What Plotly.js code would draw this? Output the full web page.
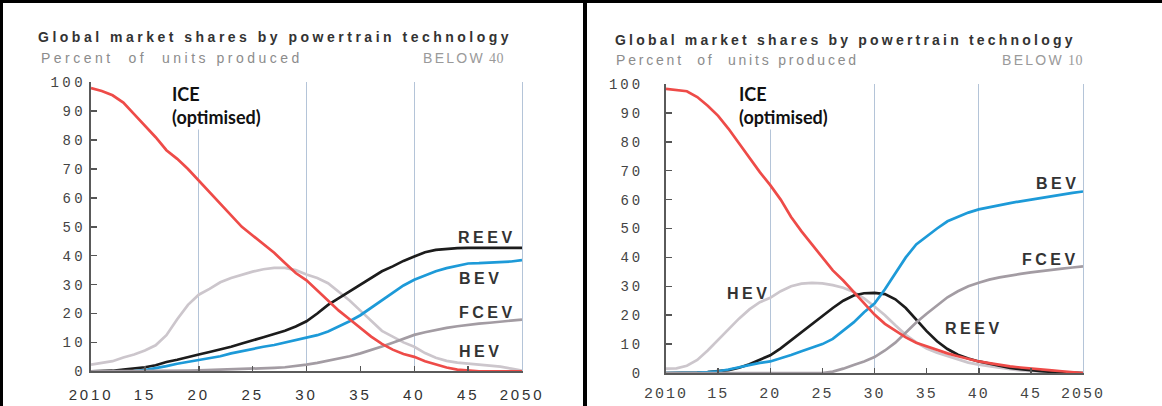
<!DOCTYPE html>
<html><head><meta charset="utf-8">
<script src="https://cdn.plot.ly/plotly-3.0.1.min.js"></script>
<style>html,body{margin:0;padding:0;background:#fff}#chart{width:1162px;height:406px}</style>
</head><body><div id="chart"></div>
<script>
// ---------- data ----------
const years = [2010,2011,2012,2013,2014,2015,2016,2017,2018,2019,
               2020,2021,2022,2023,2024,2025,2026,2027,2028,2029,
               2030,2031,2032,2033,2034,2035,2036,2037,2038,2039,
               2040,2041,2042,2043,2044,2045,2046,2047,2048,2049,2050];

// Left panel: BELOW 40
const below40_ICE  = [98,97,95.5,93,89,85,81,76.5,73.5,70, 66,62,58,54,50,47,44,41,37.5,34, 31.5,28,24.5,21,18,15,12,9.5,7.5,6, 5,3.5,2.3,1.3,0.6,0.2,0,0,0,0, 0];
const below40_HEV  = [2.3,2.8,3.5,4.8,5.8,7.2,9,12.5,18,23, 26.5,28.5,30.8,32.3,33.5,34.5,35.3,35.8,35.8,35, 33.5,32.3,30.5,27.5,24.5,21,17.5,14,12,10, 8.5,6.3,4.7,3.6,3,2.7,2.4,2,1.6,0.9, 0.2];
const below40_REEV = [0,0,0.2,0.6,0.9,1.4,2.1,3.2,4,4.8, 5.8,6.7,7.5,8.5,9.6,10.6,11.8,12.9,14,15.5, 17.3,20,23,25.3,27.6,30,32.3,34.6,36.3,38.2, 39.7,41.2,42,42.4,42.6,42.7,42.7,42.7,42.7,42.7, 42.7];
const below40_BEV  = [0,0,0,0,0.1,0.4,1,1.8,2.6,3.3, 4,4.6,5.2,6.2,7,7.8,8.5,9.1,9.9,10.7, 11.5,12.5,13.8,15.5,17.3,19.4,21.9,24.4,27,29.7, 31.7,33.2,34.6,35.7,36.6,37.3,37.4,37.6,37.8,38, 38.5];
const below40_FCEV = [0,0,0,0,0,0,0,0,0,0.2, 0.3,0.4,0.5,0.6,0.8,0.9,1,1.2,1.4,1.8, 2.3,2.9,3.6,4.4,5.2,6.2,7.3,8.6,9.9,11.2, 12.6,13.5,14.3,15,15.6,16.1,16.5,16.8,17.1,17.5, 17.9];

// Right panel: BELOW 10
const below10_ICE  = [98.3,98,97.5,95.5,92.5,89,84.5,79.5,74.5,69.5, 65,60,54,49,44.5,40,35.5,32,28,24, 20.2,17,14.5,12.3,10.5,9.2,8,6.8,5.8,4.8, 4,3.4,2.8,2.3,1.9,1.5,1.2,0.9,0.6,0.3, 0];
const below10_HEV  = [1.5,1.6,2.5,4.5,7.8,11.5,15.3,18.8,22,24.5, 26,28.3,30,30.9,31.2,31,30.4,29.5,28,25.8, 23,20,16.5,13.2,10.6,8.5,7,5.8,4.6,3.6, 2.9,2.3,1.8,1.3,0.9,0.6,0.4,0.2,0,0, 0];
const below10_REEV = [0,0,0,0.1,0.3,0.6,1,1.8,3,4.6, 6.1,8.5,11.3,14.3,17.2,20,22.5,25,26.8,27.6, 27.7,27.3,25.5,22.5,18.5,14.5,11,8.3,6.3,5, 4,3.2,2.5,1.8,1.3,0.9,0.6,0.4,0.2,0.1, 0];
const below10_BEV  = [0,0,0,0.1,0.3,0.6,1.2,2,2.8,3.5, 4,5,6.2,7.5,8.8,10,11.8,14.5,17.5,21, 24,29,34.5,40,44.5,47.4,50,52.5,54,55.5, 56.6,57.4,58.2,58.8,59.4,60,60.6,61.3,61.8,62.3, 62.8];
const below10_FCEV = [0,0,0,0,0,0,0,0,0,0, 0,0,0,0,0,0,0.5,1.5,2.8,4, 5.5,7.8,10.5,14,17.5,20.5,23.5,26.2,28.3,30, 31.2,32.3,33.1,33.8,34.3,34.8,35.3,35.7,36.1,36.5, 36.9];

const xTickVals = [2010,2015,2020,2025,2030,2035,2040,2045,2050];
const xTickLabels = ['2010','15','20','25','30','35','40','45','2050'];
const yTickVals = [0,10,20,30,40,50,60,70,80,90,100];
const yTickLabels = ['0','10','20','30','40','50','60','70','80','90','100'];

const chartTitle = 'Global market shares by powertrain technology';
const subTitle = 'Percent\u00a0\u00a0of\u00a0\u00a0units produced';
const iceLabel = 'ICE<br>(optimised)';
const scenarioLeft = '40';
const scenarioRight = '10';
// ---------- styling ----------
const W = 1162, H = 406;
const X = p => p / W, Y = p => 1 - p / H;
const colors = {ICE:'#ee4b48', HEV:'#ccc6cc', REEV:'#1c1c1c', BEV:'#1d9ad8', FCEV:'#a39ca3'};
const sp = (t, ls) => `<span style="letter-spacing:${ls}px">${t}</span>`;

// ICE sits on the overlaying x-axis (same range) that carries the vertical grid lines;
// FCEV sits on the overlaying y-axis (same range) whose light line is the 2050 grid line.
function traces(set, xa, xaGrid, ya, yaEdge) {
  const order = [['HEV', set.HEV], ['FCEV', set.FCEV], ['REEV', set.REEV], ['BEV', set.BEV], ['ICE', set.ICE]];
  return order.map(([n, v]) => ({
    x: years, y: v, xaxis: n === 'ICE' ? xaGrid : xa, yaxis: n === 'FCEV' ? yaEdge : ya,
    type: 'scatter', mode: 'lines', name: n,
    line: {color: colors[n], width: 2.7}, hoverinfo: 'skip', showlegend: false
  }));
}
const data = [
  ...traces({ICE: below40_ICE, HEV: below40_HEV, REEV: below40_REEV, BEV: below40_BEV, FCEV: below40_FCEV}, 'x', 'x3', 'y', 'y3'),
  ...traces({ICE: below10_ICE, HEV: below10_HEV, REEV: below10_REEV, BEV: below10_BEV, FCEV: below10_FCEV}, 'x2', 'x4', 'y2', 'y4')
];

function xAxis(dom, anchor, font, ls, standoff) {
  return {domain: dom, anchor: anchor, range: [2010, 2050], autorange: false,
    tickmode: 'array', tickvals: xTickVals, ticktext: xTickLabels.map(t => sp(t, ls)),
    ticks: 'inside', ticklen: 5, tickwidth: 1.5, tickcolor: '#555', tickangle: 0,
    showline: true, linecolor: '#5a5a5a', linewidth: 2, showgrid: false, zeroline: false,
    tickfont: font, ticklabelstandoff: standoff, fixedrange: true};
}
function yAxis(dom, anchor, font, ls, standoff) {
  return {domain: dom, anchor: anchor, range: [0, 100], autorange: false,
    tickmode: 'array', tickvals: yTickVals, ticktext: yTickLabels.map(t => sp(t, ls)),
    ticks: 'inside', ticklen: 6, tickwidth: 1.5, tickcolor: '#555',
    showline: true, linecolor: '#5a5a5a', linewidth: 2, showgrid: false, zeroline: false,
    tickfont: font, ticklabelstandoff: standoff, fixedrange: true};
}
const gridColor = '#b4c4d8';
function gridAxis(over, anchor) {
  return {overlaying: over, anchor: anchor, range: [2010, 2050], autorange: false,
    tickmode: 'linear', tick0: 2010, dtick: 10, showgrid: true, gridcolor: gridColor, gridwidth: 1,
    showticklabels: false, ticks: '', showline: false, zeroline: false, fixedrange: true};
}
function edgeAxis(over, anchor) {
  return {overlaying: over, anchor: anchor, side: 'right', range: [0, 100], autorange: false,
    showline: true, linecolor: gridColor, linewidth: 1, showgrid: false, zeroline: false,
    showticklabels: false, ticks: '', fixedrange: true};
}

const titleFont = {family: 'Liberation Sans, Arial, sans-serif', size: 14, color: '#333', weight: 700};
const subFont = {family: 'Liberation Sans, Arial, sans-serif', size: 14, color: '#8c8c8c'};
const belowFont = {family: 'Liberation Sans, Arial, sans-serif', size: 14, color: '#9a9a9a'};
const lblFont = {family: 'Liberation Sans, Arial, sans-serif', size: 16, color: '#333', weight: 700};
const iceFont = {family: 'Lato, Noto Sans, sans-serif', size: 18, color: '#111', weight: 700};

function ann(text, x, y, xanchor, font, extra) {
  return Object.assign({text: text, x: X(x), y: Y(y), xref: 'paper', yref: 'paper',
    xanchor: xanchor, yanchor: 'middle', showarrow: false, font: font, borderpad: 0}, extra || {});
}
const belowText = n => sp('BELOW', 2.3) + `<span style="font-family:Liberation Serif;letter-spacing:0.5px">\u00a0${n}</span>`;
// white box behind the ICE label hides the top of the 2020 grid line, as in the source
const iceBox = {bgcolor: '#fff', height: 48, valign: 'bottom', yanchor: 'bottom', align: 'left', borderpad: 1};

const annotations = [
  // left panel
  ann(sp(chartTitle, 3.5), 37, 37, 'left', titleFont),
  ann(sp(subTitle, 3.5), 40, 58, 'left', subFont),
  ann(belowText(scenarioLeft), 505, 58, 'right', belowFont),
  ann(iceLabel, 170, 130, 'left', iceFont, iceBox),
  ann(sp('REEV', 3.5), 487, 237, 'center', lblFont),
  ann(sp('BEV', 3.5), 480, 278, 'center', lblFont),
  ann(sp('FCEV', 3.5), 487, 312, 'center', lblFont),
  ann(sp('HEV', 3.5), 480, 351, 'center', lblFont),
  // right panel
  ann(sp(chartTitle, 3.2), 614, 40, 'left', titleFont),
  ann(sp(subTitle, 2.8), 615, 60, 'left', subFont),
  ann(belowText(scenarioRight), 1084, 60, 'right', belowFont),
  ann(iceLabel, 737, 129.5, 'left', iceFont, iceBox),
  ann(sp('BEV', 3.5), 1057, 183, 'center', lblFont),
  ann(sp('FCEV', 3.5), 1050, 259, 'center', lblFont),
  ann(sp('REEV', 3.5), 974, 328, 'center', lblFont),
  ann(sp('HEV', 3.5), 748, 293, 'center', lblFont)
];

const shapes = [
  {type: 'line', xref: 'paper', yref: 'paper', x0: 0, x1: 1, y0: Y(1.5), y1: Y(1.5), line: {color: '#000', width: 3}},
  {type: 'line', xref: 'paper', yref: 'paper', x0: X(1.5), x1: X(1.5), y0: 0, y1: 1, line: {color: '#000', width: 3}},
  {type: 'line', xref: 'paper', yref: 'paper', x0: X(585), x1: X(585), y0: 0, y1: 1, line: {color: '#000', width: 4}}
];

const monoFont = (s, c) => ({family: 'Liberation Mono, Courier New, monospace', size: s, color: c});
const layout = {
  width: W, height: H, autosize: false,
  margin: {l: 0, r: 0, t: 0, b: 0, pad: 0},
  paper_bgcolor: '#fff', plot_bgcolor: '#fff', showlegend: false,
  xaxis: xAxis([X(91), X(522)], 'y', {family: 'Liberation Sans, Arial, sans-serif', size: 15, color: '#333'}, 2.8, 9),
  yaxis: yAxis([1 - 371.3 / H, 1 - 82.3 / H], 'x', monoFont(14, '#444'), 3.5, 0),
  xaxis2: xAxis([X(666), X(1083)], 'y2', monoFont(15, '#444'), 2, 5),
  yaxis2: yAxis([1 - 373 / H, 1 - 84 / H], 'x2', monoFont(14, '#444'), 3, 18),
  xaxis3: gridAxis('x', 'y'),
  xaxis4: gridAxis('x2', 'y2'),
  yaxis3: edgeAxis('y', 'x'),
  yaxis4: edgeAxis('y2', 'x2'),
  annotations: annotations,
  shapes: shapes
};

Plotly.newPlot('chart', data, layout, {staticPlot: true, displayModeBar: false});
</script>
</body></html>
